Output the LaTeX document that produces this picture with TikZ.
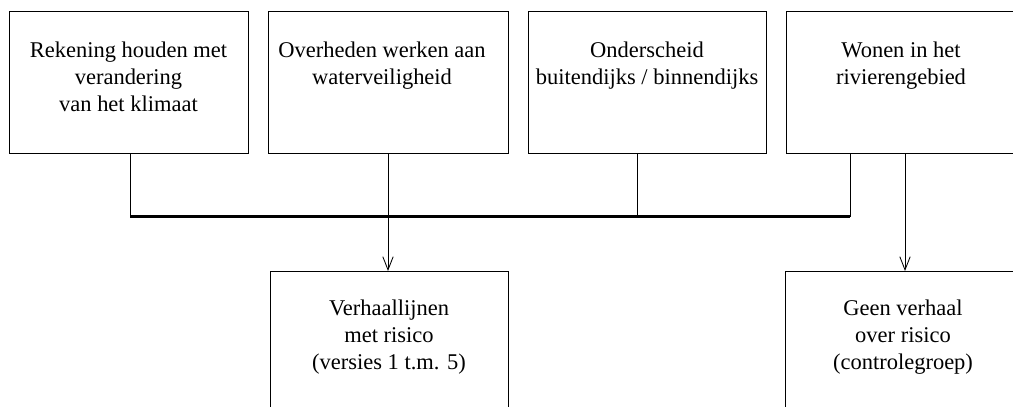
\documentclass[tikz,border=0pt]{standalone}
\usepackage{fontspec}
\setmainfont{Liberation Serif}
\usetikzlibrary{arrows.meta}
\tikzset{
  blok/.style={draw,line width=0.7pt,inner sep=0pt,minimum height=3.55cm},
  onderblok/.style={draw,line width=0.7pt,inner sep=0pt,minimum height=4cm,anchor=north},
  tekst/.style={anchor=north,align=center,inner sep=0pt,font=\fontsize{16}{19}\selectfont},
  lijn/.style={line width=0.6pt},
  balk/.style={line width=2pt},
  pijl/.style={line width=0.6pt,-{Straight Barb[length=3.3mm,width=2.6mm]}}
}
\begin{document}
\begin{tikzpicture}
    \useasboundingbox (0,0) rectangle (25.325,-10.15);
    \node[blok,minimum width=5.975cm] (klimaat) at (3.2125,-2.05) {};
    \node[blok,minimum width=6cm] (overheden) at (9.7,-2.05) {};
    \node[blok,minimum width=5.95cm] (onderscheid) at (16.175,-2.05) {};
    \node[blok,minimum width=5.75cm] (wonen) at (22.525,-2.05) {};
    \node[onderblok,minimum width=5.95cm] (verhaal) at (9.725,-6.775) {};
    \node[onderblok,minimum width=5.9cm] (geen) at (22.575,-6.775) {};
    \node[tekst] (klimaattekst) at ([yshift=-0.78cm]klimaat.north) {Rekening houden met\\verandering\\van het klimaat};
    \node[tekst] (overhedentekst) at ([xshift=-0.15cm,yshift=-0.78cm]overheden.north) {Overheden werken aan\\waterveiligheid};
    \node[tekst] (onderscheidtekst) at ([yshift=-0.78cm]onderscheid.north) {Onderscheid\\buitendijks / binnendijks};
    \node[tekst] (wonentekst) at ([yshift=-0.78cm]wonen.north) {Wonen in het\\rivierengebied};
    \node[tekst] (verhaaltekst) at ([yshift=-0.72cm]verhaal.north) {Verhaallijnen\\met risico\\(versies 1 t.m. 5)};
    \node[tekst] (geentekst) at ([yshift=-0.72cm]geen.north) {Geen verhaal\\over risico\\(controlegroep)};
    \coordinate (balkL) at ([xshift=0.04cm,yshift=-1.575cm]klimaat.south);
    \coordinate (balkR) at ([xshift=-1.275cm,yshift=-1.575cm]wonen.south);
    \draw[balk] (balkL) -- (balkR);
    \draw[lijn] ([xshift=0.04cm]klimaat.south) -- (balkL);
    \draw[lijn] ([xshift=-0.25cm]onderscheid.south) -- ([xshift=-0.25cm]onderscheid.south |- balkL);
    \draw[lijn] (wonen.south -| balkR) -- (balkR);
    \draw[pijl] (overheden.south) -- (overheden.south |- verhaal.north);
    \draw[pijl] ([xshift=0.1cm]wonen.south) -- ([xshift=0.1cm]wonen.south |- geen.north);
\end{tikzpicture}
\end{document}
